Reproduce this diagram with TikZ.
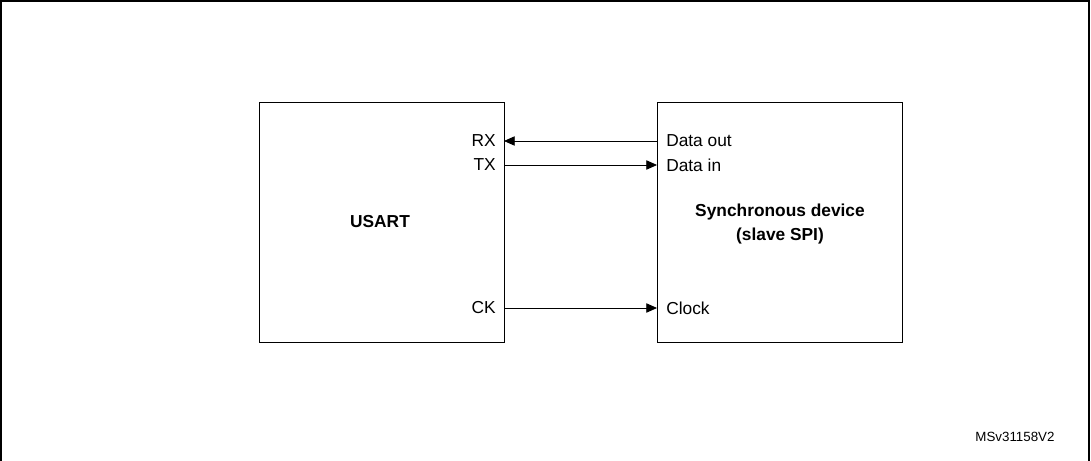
\documentclass[tikz,border=0pt]{standalone}
\usepackage{fontspec}
\setmainfont{Liberation Sans}
\usetikzlibrary{arrows.meta}
\begin{document}
\begin{tikzpicture}[x=0.75pt,y=-0.75pt,
  box/.style={draw,line width=0.7pt},
  lbl/.style={font=\fontsize{13}{15}\selectfont,inner sep=0pt},
  sig/.style={draw,line width=0.6pt,-{Triangle[length=8pt,width=7pt]}}]
\useasboundingbox (0,0) rectangle (1091,460);
\draw[line width=0.8pt] (1,470) -- (1,1) -- (1089,1) -- (1089,470);
\draw[box] (259,102) rectangle (504,342);
\draw[box] (657,102) rectangle (902,342);
\node[lbl,font=\bfseries\fontsize{13}{15}\selectfont] (usart) at (380,222) {USART};
\node[lbl,font=\bfseries\fontsize{13}{15}\selectfont,align=center] (sync) at (780,224) {Synchronous device\\[3pt](slave SPI)};
\node[lbl,anchor=east] (rx) at (496,141) {RX};
\node[lbl,anchor=east] (tx) at (496,165) {TX};
\node[lbl,anchor=east] (ck) at (496,308) {CK};
\node[lbl,anchor=west] (dout) at (666,141) {Data out};
\node[lbl,anchor=west] (din) at (666,165) {Data in};
\node[lbl,anchor=west] (clk) at (666,308) {Clock};
\coordinate (a1) at (657,141); \coordinate (b1) at (504,141);
\coordinate (a2) at (504,165); \coordinate (b2) at (657,165);
\coordinate (a3) at (504,308); \coordinate (b3) at (657,308);
\draw[sig] (a1) -- (b1);
\draw[sig] (a2) -- (b2);
\draw[sig] (a3) -- (b3);
\node[lbl,font=\fontsize{10}{12}\selectfont] (id) at (1015,437) {MSv31158V2};
\end{tikzpicture}
\end{document}
